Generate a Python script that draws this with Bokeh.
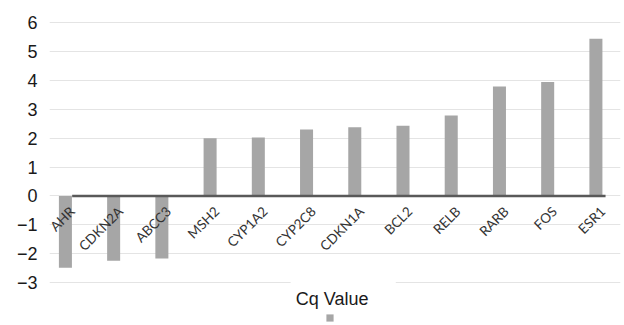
from bokeh.plotting import figure
from bokeh.models import (ColumnDataSource, FixedTicker, Legend, LegendItem,
                          Label, BoxAnnotation, Range1d)
from bokeh.core.properties import value
from bokeh.embed import file_html
from bokeh.resources import INLINE
import math

genes = ["AHR", "CDKN2A", "ABCC3", "MSH2", "CYP1A2", "CYP2C8", "CDKN1A",
         "BCL2", "RELB", "RARB", "FOS", "ESR1"]
cq_values = [-2.48, -2.24, -2.16, 2.0, 2.02, 2.3, 2.38, 2.43, 2.78, 3.79, 3.94, 5.44]
y_ticks = [-3, -2, -1, 0, 1, 2, 3, 4, 5, 6]
series_name = "Cq Value"

idx = list(range(len(genes)))
src = ColumnDataSource(dict(x=idx, top=cq_values, gene=genes,
                            lx=[i + 0.14 for i in idx], ly=[-0.45] * len(idx)))

p = figure(width=624, height=325, output_backend="svg", toolbar_location=None,
           x_range=Range1d(-0.33, 11.51), y_range=Range1d(-4.48, 6.76),
           min_border_left=49, min_border_right=4, min_border_top=0,
           min_border_bottom=0)
p.outline_line_color = None
p.xaxis.visible = False
p.xgrid.grid_line_color = None
p.ygrid.grid_line_color = "#e4e4e4"
p.ygrid.ticker = FixedTicker(ticks=y_ticks)
p.yaxis.ticker = FixedTicker(ticks=y_ticks)
p.yaxis.axis_line_color = None
p.yaxis.major_tick_line_color = None
p.yaxis.minor_tick_line_color = None
p.yaxis.major_label_standoff = 6
p.yaxis.major_label_text_font = "Liberation Sans"
p.yaxis.major_label_text_font_size = "18px"
p.yaxis.major_label_text_color = "#1a1a1a"
p.yaxis.major_label_overrides = {t: (str(t).replace("-", "\u2212")) for t in y_ticks}

bars = p.vbar(x="x", top="top", bottom=0, width=0.27, source=src,
              fill_color="#a6a6a6", line_color=None)

# zero axis line
p.segment(x0=[0.14], y0=[0], x1=[11.2], y1=[0], line_color="#595959", line_width=2.5)

p.text(x="lx", y="ly", text="gene", source=src, angle=math.pi / 4,
       text_align="right", text_baseline="middle",
       text_font=value("Lato"), text_font_size="13.5px", text_color="#333333")

# legend area
p.add_layout(BoxAnnotation(left=4.67, right=6.85, top=-2.8, bottom=-4.48,
                           fill_color="white", fill_alpha=1.0, line_color=None))
p.add_layout(Label(x=5.53, y=-3.55, text=series_name, text_align="center",
                   text_baseline="alphabetic", text_font="Liberation Sans",
                   text_font_size="18px", text_color="#1a1a1a"))
leg = Legend(items=[LegendItem(label="", renderers=[bars])],
             location=(276, 3), glyph_width=9, glyph_height=9, padding=0,
             margin=0, label_width=0, label_standoff=0, label_height=9,
             background_fill_alpha=0, border_line_color=None)
p.add_layout(leg)

open("out.html", "w").write(file_html(p, INLINE))
